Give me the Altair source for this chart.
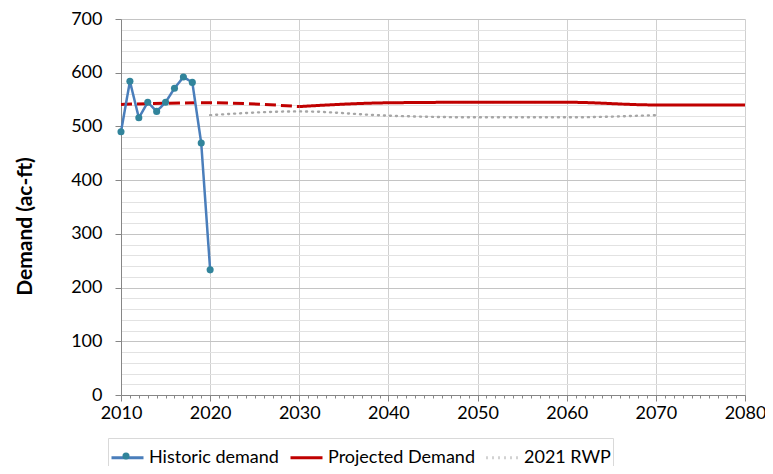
import altair as alt
import pandas as pd

hist_years = [2010, 2011, 2012, 2013, 2014, 2015, 2016, 2017, 2018, 2019, 2020]
hist_vals = [490, 584, 516, 545, 528, 545, 571, 592, 582, 469, 233]

projd_years = [2010, 2020, 2030]
projd_vals = [541, 544, 537]

projs_years = [2030, 2040, 2050, 2060, 2070, 2080]
projs_vals = [537, 544, 545, 545, 540, 540]

rwp_years = [2020, 2030, 2040, 2050, 2060, 2070]
rwp_vals = [521, 528, 520, 517, 517, 521]

series_names = ["Historic demand", "Projected Demand", "2021 RWP"]
series_colors = ["#4a7ebb", "#c00000", "#a6a6a6"]
series_dash = [[1, 0], [1, 0], [1, 5]]

hist = pd.DataFrame({"year": hist_years, "value": hist_vals, "series": series_names[0],
                     "pt": series_names[0]})
projd = pd.DataFrame({"year": projd_years, "value": projd_vals, "series": series_names[1]})
projs = pd.DataFrame({"year": projs_years, "value": projs_vals, "series": series_names[1]})
rwp = pd.DataFrame({"year": rwp_years, "value": rwp_vals, "series": series_names[2]})

FONT = "Lato"
PT_COLOR = "#31849b"

legend = alt.Legend(
    title=None,
    orient="none",
    legendX=-13,
    legendY=419,
    direction="horizontal",
    columns=3,
    symbolType="stroke",
    symbolSize=1024,
    symbolStrokeWidth=3,
    labelFont=FONT,
    labelFontSize=18,
    labelColor="#000000",
    columnPadding=5,
    labelOffset=4,
    padding=2,
    strokeColor="#d9d9d9",
    fillColor="#ffffff",
    zindex=1,
)

dot_legend = alt.Legend(
    title=None,
    orient="none",
    legendX=1,
    legendY=433,
    padding=0,
    symbolType="circle",
    symbolSize=50,
    symbolFillColor=PT_COLOR,
    symbolStrokeWidth=0,
    labelFontSize=1,
    labelOpacity=0,
    labelLimit=1,
    labelOffset=0,
    zindex=2,
)

color = alt.Color("series:N", scale=alt.Scale(domain=series_names, range=series_colors), legend=legend)
dash = alt.StrokeDash("series:N", scale=alt.Scale(domain=series_names, range=series_dash), legend=legend)

x_axis = alt.Axis(
    values=list(range(2010, 2081)),
    labelExpr="datum.value % 10 === 0 ? datum.value : ''",
    labelOverlap=False,
    labelFlush=False,
    labelFont=FONT,
    labelFontSize=18,
    labelColor="#000000",
    labelPadding=3,
    tickSize={"condition": {"test": "datum.value % 10 === 0", "value": 6}, "value": 3},
    tickColor="#868686",
    domainColor="#868686",
    gridOpacity={"condition": {"test": "datum.value % 10 === 0", "value": 1}, "value": 0},
    gridColor="#d0d0d0",
    title=None,
)
y_axis = alt.Axis(
    values=list(range(0, 701, 20)),
    labelExpr="datum.value % 100 === 0 ? datum.value : ''",
    labelOverlap=False,
    labelFont=FONT,
    labelFontSize=18,
    labelColor="#000000",
    labelPadding=13,
    tickSize=6,
    tickOpacity={"condition": {"test": "datum.value % 100 === 0", "value": 1}, "value": 0},
    tickColor="#868686",
    domainColor="#868686",
    gridColor={"condition": {"test": "datum.value % 100 === 0", "value": "#c4c4c4"}, "value": "#e2e2e2"},
    title="Demand (ac-ft)",
    titleFont=FONT,
    titleFontSize=21,
    titleFontWeight="bold",
    titleColor="#000000",
    titleX=-96,
    titleY=207,
    titleBaseline="middle",
)

xenc = alt.X("year:Q", scale=alt.Scale(domain=[2010, 2080], nice=False, zero=False), axis=x_axis)
yenc = alt.Y("value:Q", scale=alt.Scale(domain=[0, 700], nice=False), axis=y_axis)

rwp_line = alt.Chart(rwp).mark_line(strokeWidth=2.4, interpolate="monotone", strokeCap="round").encode(
    x=xenc, y=yenc, color=color, strokeDash=dash
)
projd_line = alt.Chart(projd).mark_line(strokeWidth=3, interpolate="monotone").encode(
    x=xenc, y=yenc, color=color, strokeDash=alt.value([11, 5])
)
projs_line = alt.Chart(projs).mark_line(strokeWidth=3, interpolate="monotone").encode(
    x=xenc, y=yenc, color=color, strokeDash=dash
)
hist_line = alt.Chart(hist).mark_line(strokeWidth=2.5).encode(
    x=xenc, y=yenc, color=color, strokeDash=dash
)
hist_pts = alt.Chart(hist).mark_point(size=50, opacity=1, filled=True, color=PT_COLOR).encode(
    x=xenc, y=yenc,
    shape=alt.Shape("pt:N", scale=alt.Scale(domain=[series_names[0]], range=["circle"]), legend=dot_legend),
)

chart = alt.layer(rwp_line, projd_line, projs_line, hist_line, hist_pts).properties(
    width=624,
    height=376,
    autosize=alt.AutoSizeParams(type="none"),
    padding={"left": 113, "top": 11, "right": 20, "bottom": 71},
).configure_view(stroke=None)

chart.save("out.html", embed_options={"renderer": "svg", "actions": False})
